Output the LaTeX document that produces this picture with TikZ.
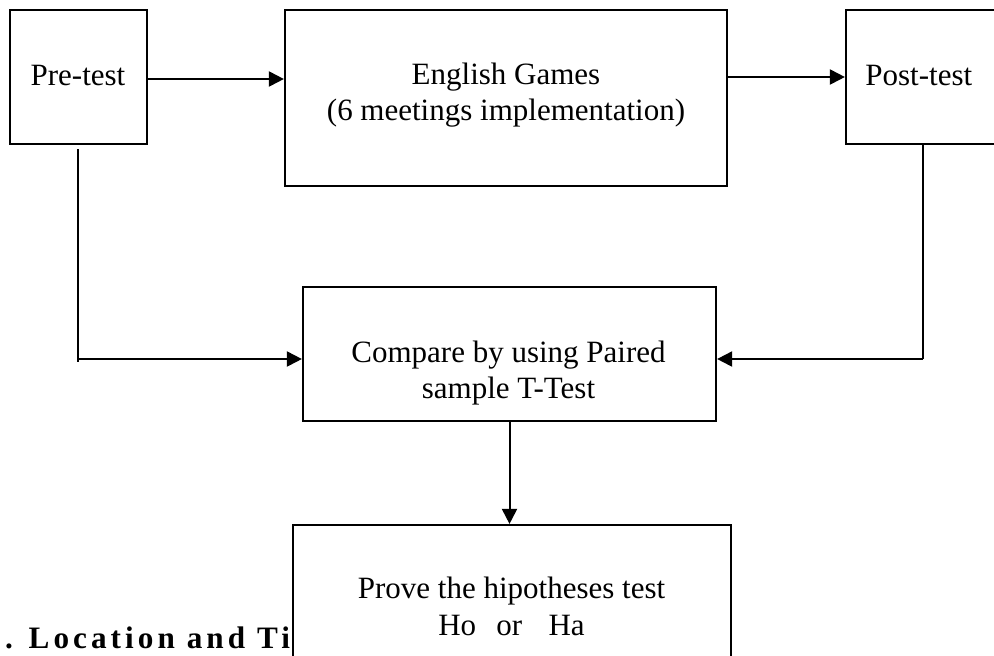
\documentclass[tikz,border=0pt]{standalone}
\usepackage{fontspec}
\setmainfont{Liberation Serif}
\newfontfamily\headfont[LetterSpace=13]{Liberation Serif}
\usetikzlibrary{arrows.meta}
\begin{document}
\begin{tikzpicture}[x=0.5pt,y=-0.5pt,
  box/.style={draw, line width=1.1pt, fill=white, inner sep=0pt},
  txt/.style={inner sep=0pt, align=center, font=\fontsize{15.5}{18.25}\selectfont},
  conn/.style={line width=1pt},
  arr/.style={line width=1pt, -{Triangle[length=7.5pt,width=7.5pt]}}]
\useasboundingbox (0,0) rectangle (994,655);
\clip (0,0) rectangle (994,655);
% heading partly covered by the last box
\node[anchor=base west, inner sep=0pt, font=\fontsize{15.6}{18}\headfont\bfseries] (head) at (-15,648) {3. Location and Time};
% boxes
\node[box, minimum width=68.5pt, minimum height=67pt] (pre) at (78.5,77) {};
\node[box, minimum width=221pt, minimum height=88pt] (eng) at (506,98) {};
\node[box, minimum width=82pt, minimum height=67pt] (post) at (928,77) {};
\node[box, minimum width=206.5pt, minimum height=67pt] (cmp) at (509.5,354) {};
\node[box, minimum width=219pt, minimum height=87.5pt] (prove) at (512,612.5) {};
% texts
\node[txt, anchor=base] (pretxt) at (78,85) {Pre-test};
\node[txt, anchor=base west] (posttxt) at (865,85) {Post-test};
\node[txt] (engtxt) at (506,95) {English Games\\(6 meetings implementation)};
\node[txt] (cmptxt) at (508.5,373) {Compare by using Paired\\sample T-Test};
\node[txt] (provetxt) at (511.5,606.6) {Prove the hipotheses test\\Ho\hspace{0.65em}or\hspace{0.85em}Ha};
% connectors
\coordinate (cL) at (78,359);
\coordinate (cR) at (923,359);
\draw[arr] ([yshift=-1pt]pre.east) -- ([yshift=-1pt]pre.east -| eng.west);
\draw[arr] (eng.east |- post.west) -- (post.west);
\draw[conn] ([yshift=-2pt]cL |- pre.south) -- ([yshift=-1.5pt]cL);
\draw[arr] (cL) -- (cL -| cmp.west);
\draw[conn] (cR |- post.south) -- (cR);
\draw[arr] (cR) -- (cR -| cmp.east);
\draw[arr] (cmp.south) -- (cmp.south |- prove.north);
\end{tikzpicture}
\end{document}
